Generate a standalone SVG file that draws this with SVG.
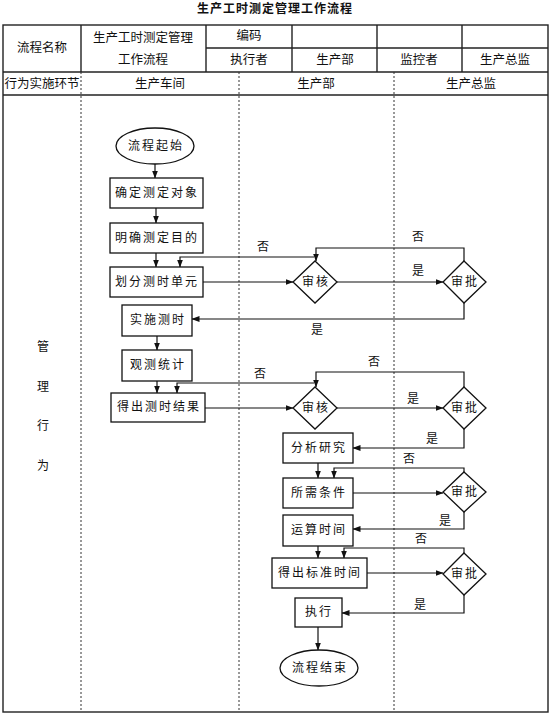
<svg xmlns="http://www.w3.org/2000/svg" width="550" height="715" viewBox="0 0 550 715">
<style>
text{font-family:"Liberation Serif","Noto Sans CJK SC",serif;font-size:12px;fill:#111;text-anchor:middle;dominant-baseline:central}
.t{font-weight:bold;letter-spacing:1px}
.h{font-size:12.5px}
.n{letter-spacing:2px}
.frame{fill:none;stroke:#222;stroke-width:1.4}
.dash{stroke:#333;stroke-width:1;stroke-dasharray:2,2;fill:none}
.box{fill:#fff;stroke:#111;stroke-width:1.3}
.c{fill:none;stroke:#111;stroke-width:1.2;marker-end:url(#a)}
</style>
<defs>
<marker id="a" markerWidth="8" markerHeight="6" refX="7.5" refY="3" orient="auto" markerUnits="userSpaceOnUse">
<path d="M0,0 L8,3 L0,6 Z" fill="#111"/>
</marker>
</defs>
<rect width="550" height="715" fill="#fff"/>
<g id="title"><text class="t" x="275" y="9">生产工时测定管理工作流程</text></g>
<g id="table">
<rect class="frame" x="3" y="25" width="545" height="687"/>
<line class="frame" x1="3" y1="72" x2="548" y2="72"/>
<line class="frame" x1="3" y1="95" x2="548" y2="95"/>
<line class="frame" x1="206" y1="48" x2="548" y2="48"/>
<line class="frame" x1="81" y1="25" x2="81" y2="72"/>
<line class="frame" x1="206" y1="25" x2="206" y2="72"/>
<line class="frame" x1="292" y1="25" x2="292" y2="72"/>
<line class="frame" x1="377" y1="25" x2="377" y2="72"/>
<line class="frame" x1="462" y1="25" x2="462" y2="72"/>
<line class="dash" x1="81" y1="72" x2="81" y2="712"/>
<line class="dash" x1="239" y1="72" x2="239" y2="712"/>
<line class="dash" x1="394" y1="72" x2="394" y2="712"/>
<text class="h" x="42" y="48">流程名称</text>
<text class="h" x="143" y="38">生产工时测定管理</text>
<text class="h" x="143" y="60">工作流程</text>
<text class="h" x="249" y="36">编码</text>
<text class="h" x="249" y="60">执行者</text>
<text class="h" x="335" y="60">生产部</text>
<text class="h" x="419" y="60">监控者</text>
<text class="h" x="505" y="60">生产总监</text>
<text class="h" x="42" y="84">行为实施环节</text>
<text class="h" x="160" y="84">生产车间</text>
<text class="h" x="316" y="84">生产部</text>
<text class="h" x="471" y="84">生产总监</text>
<text x="43" y="347">管</text>
<text x="43" y="387">理</text>
<text x="43" y="426">行</text>
<text x="43" y="466">为</text>
</g>
<g id="connectors">
<path class="c" d="M155,164 V178"/>
<path class="c" d="M156,208 V223"/>
<path class="c" d="M156,253 V267"/>
<path class="c" d="M314,257 H180 V267"/>
<path class="c" d="M464,261 V248 H316 V261"/>
<path class="c" d="M203,282 H293"/>
<path class="c" d="M337,282 H443"/>
<path class="c" d="M464,303 V319 H192"/>
<path class="c" d="M157,336 V350"/>
<path class="c" d="M157,381 V393"/>
<path class="c" d="M314,383 H177 V393"/>
<path class="c" d="M464,388 V372 H316 V387"/>
<path class="c" d="M205,408 H293"/>
<path class="c" d="M337,408 H443"/>
<path class="c" d="M464,429 V448 H353"/>
<path class="c" d="M318,463 V478"/>
<path class="c" d="M464,472 V468 H334 V478"/>
<path class="c" d="M353,493 H443"/>
<path class="c" d="M464,512 V529 H353"/>
<path class="c" d="M318,546 V558"/>
<path class="c" d="M464,553 V548 H344 V558"/>
<path class="c" d="M367,573 H443"/>
<path class="c" d="M464,595 V613 H342"/>
<path class="c" d="M318,627 V650"/>
<text x="263" y="247">否</text>
<text x="418" y="237">否</text>
<text x="418" y="271">是</text>
<text x="317" y="330">是</text>
<text x="260" y="374">否</text>
<text x="374" y="362">否</text>
<text x="413" y="399">是</text>
<text x="432" y="439">是</text>
<text x="409" y="459">否</text>
<text x="445" y="521">是</text>
<text x="421" y="539">否</text>
<text x="420" y="605">是</text>
</g>
<g id="start"><ellipse class="box" cx="155" cy="146" rx="39" ry="18"/><text class="n" x="156" y="146">流程起始</text></g>
<g id="n1"><rect class="box" x="110" y="178" width="93" height="30"/><text class="n" x="157" y="193">确定测定对象</text></g>
<g id="n2"><rect class="box" x="110" y="223" width="93" height="30"/><text class="n" x="157" y="238">明确测定目的</text></g>
<g id="n3"><rect class="box" x="110" y="267" width="93" height="30"/><text class="n" x="157" y="282">划分测时单元</text></g>
<g id="d1"><polygon class="box" points="315,261 337,282 315,303 293,282"/><text class="n" x="316" y="282">审核</text></g>
<g id="d2"><polygon class="box" points="464,261 486,282 464,303 443,282"/><text class="n" x="465" y="282">审批</text></g>
<g id="n4"><rect class="box" x="122" y="305" width="70" height="31"/><text class="n" x="158" y="320">实施测时</text></g>
<g id="n5"><rect class="box" x="122" y="350" width="70" height="31"/><text class="n" x="158" y="365">观测统计</text></g>
<g id="n6"><rect class="box" x="111" y="393" width="94" height="29"/><text class="n" x="159" y="407">得出测时结果</text></g>
<g id="d3"><polygon class="box" points="315,387 337,408 315,429 293,408"/><text class="n" x="316" y="408">审核</text></g>
<g id="d4"><polygon class="box" points="464,387 486,408 464,429 443,408"/><text class="n" x="465" y="408">审批</text></g>
<g id="n7"><rect class="box" x="283" y="433" width="70" height="30"/><text class="n" x="319" y="448">分析研究</text></g>
<g id="n8"><rect class="box" x="283" y="478" width="70" height="30"/><text class="n" x="319" y="493">所需条件</text></g>
<g id="d5"><polygon class="box" points="464,472 486,492 464,512 443,492"/><text class="n" x="465" y="492">审批</text></g>
<g id="n9"><rect class="box" x="283" y="515" width="70" height="31"/><text class="n" x="319" y="530">运算时间</text></g>
<g id="n10"><rect class="box" x="272" y="558" width="95" height="30"/><text class="n" x="320" y="573">得出标准时间</text></g>
<g id="d6"><polygon class="box" points="464,553 486,574 464,595 443,574"/><text class="n" x="465" y="574">审批</text></g>
<g id="n11"><rect class="box" x="295" y="598" width="47" height="29"/><text class="n" x="319" y="612">执行</text></g>
<g id="end"><ellipse class="box" cx="319" cy="668" rx="39" ry="18"/><text class="n" x="320" y="668">流程结束</text></g>
</svg>
